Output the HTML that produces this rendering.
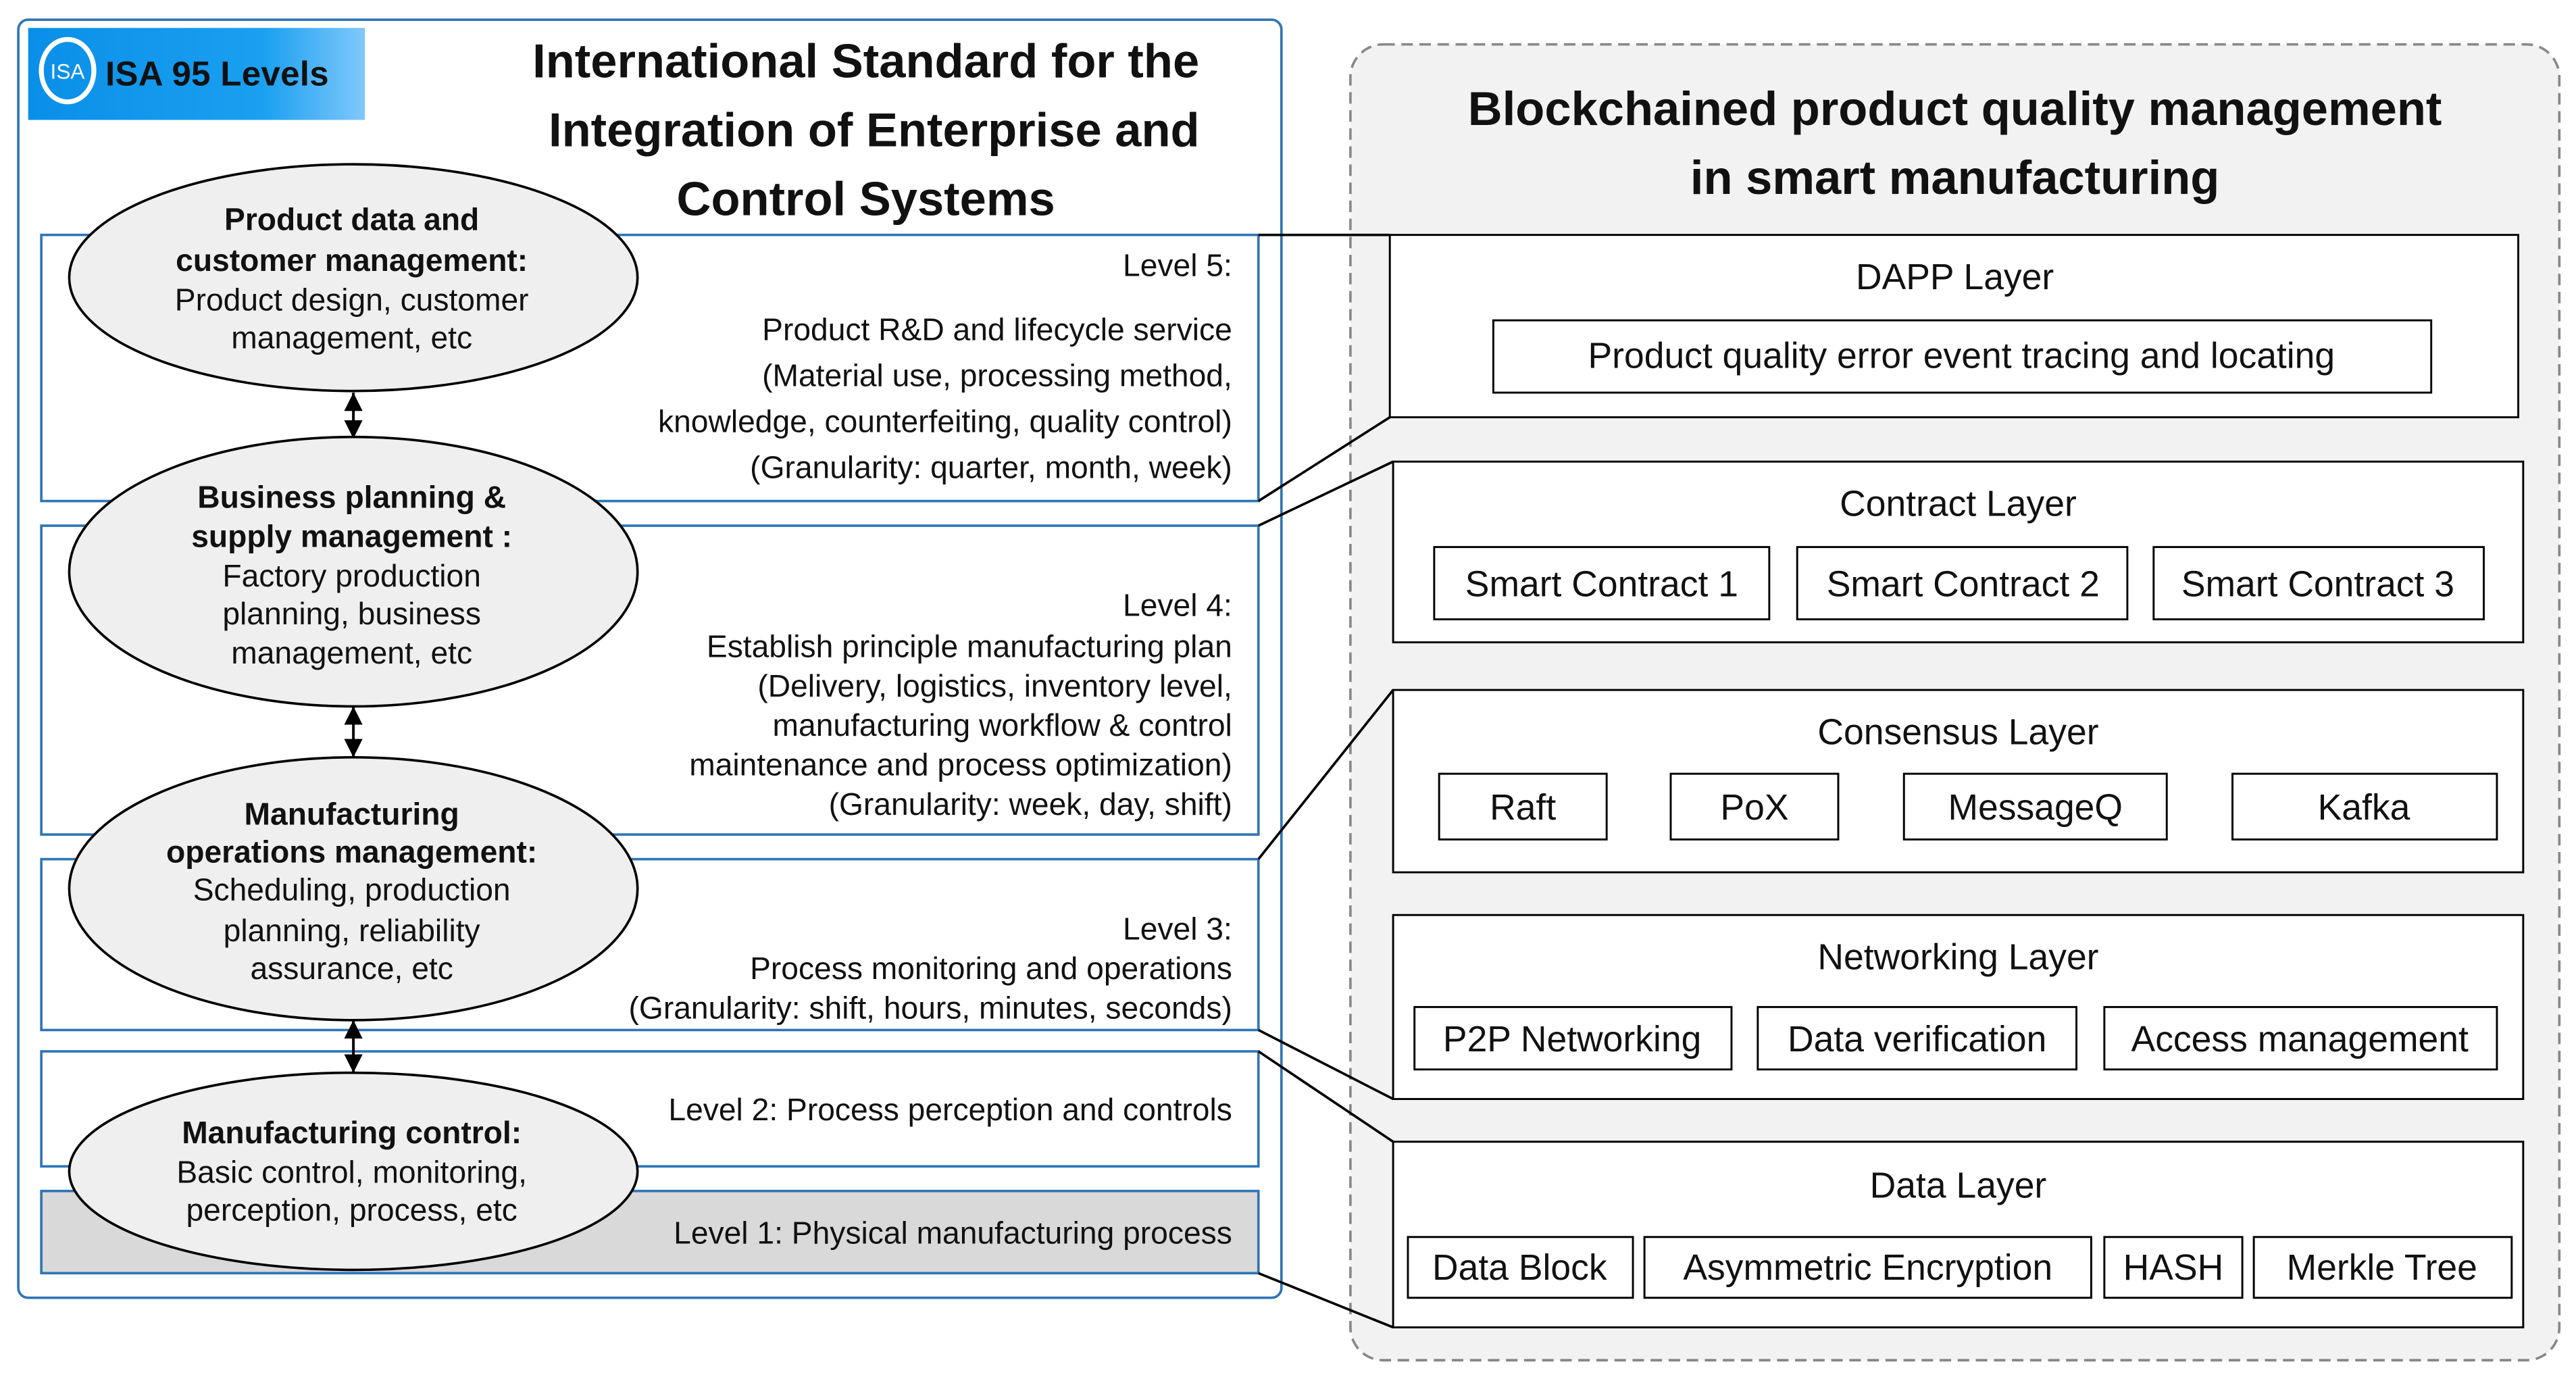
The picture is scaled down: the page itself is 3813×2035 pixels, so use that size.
<!DOCTYPE html>
<html><head><meta charset="utf-8"><style>
html,body{margin:0;padding:0;background:#fff}
svg{display:block}
text{font-family:"Liberation Sans",sans-serif;fill:#111}
</style></head><body>
<svg width="3813" height="2035" viewBox="0 0 1568 837" xmlns="http://www.w3.org/2000/svg">
<defs>
<linearGradient id="g" x1="0" x2="1"><stop offset="0" stop-color="#0a8fe8"/><stop offset="0.7" stop-color="#1aa0f0"/><stop offset="1" stop-color="#80c8fa"/></linearGradient>
<marker id="a" viewBox="0 0 10 10" refX="10" refY="5" markerWidth="7" markerHeight="8" orient="auto-start-reverse"><path d="M0,0L10,5L0,10z" fill="#000"/></marker>
</defs>
<rect x="11" y="12" width="769" height="778" rx="6" fill="#fff" stroke="#2e75b6" stroke-width="1.5"/>
<rect x="17" y="17" width="205" height="56" fill="url(#g)"/>
<ellipse cx="41" cy="43" rx="16" ry="19" fill="none" stroke="#fff" stroke-width="3"/>
<text x="41" y="48" font-size="13" text-anchor="middle" style="fill:#fff">ISA</text>
<text x="64" y="52" font-size="21" font-weight="bold" textLength="136">ISA 95 Levels</text>
<g font-size="29" font-weight="bold" text-anchor="middle">
<text x="527" y="47">International Standard for the</text>
<text x="532" y="89">Integration of Enterprise and</text>
<text x="527" y="131">Control Systems</text>
</g>
<g fill="#fff" stroke="#2e75b6" stroke-width="1.5">
<rect x="25" y="143" width="741" height="162"/>
<rect x="25" y="320" width="741" height="188"/>
<rect x="25" y="523" width="741" height="104"/>
<rect x="25" y="640" width="741" height="70"/>
<rect x="25" y="725" width="741" height="50" fill="#d9d9d9"/>
</g>
<g font-size="19" text-anchor="end">
<text x="750" y="168">Level 5:</text>
<text x="750" y="207">Product R&amp;D and lifecycle service</text>
<text x="750" y="235">(Material use, processing method,</text>
<text x="750" y="263">knowledge, counterfeiting, quality control)</text>
<text x="750" y="291">(Granularity: quarter, month, week)</text>
<text x="750" y="375">Level 4:</text>
<text x="750" y="400">Establish principle manufacturing plan</text>
<text x="750" y="424">(Delivery, logistics, inventory level,</text>
<text x="750" y="448">manufacturing workflow &amp; control</text>
<text x="750" y="472">maintenance and process optimization)</text>
<text x="750" y="496">(Granularity: week, day, shift)</text>
<text x="750" y="572">Level 3:</text>
<text x="750" y="596">Process monitoring and operations</text>
<text x="750" y="620">(Granularity: shift, hours, minutes, seconds)</text>
<text x="750" y="682">Level 2: Process perception and controls</text>
<text x="750" y="757">Level 1: Physical manufacturing process</text>
</g>
<g stroke="#000" stroke-width="1.6">
<line x1="215" y1="239" x2="215" y2="267" marker-start="url(#a)" marker-end="url(#a)"/>
<line x1="215" y1="430" x2="215" y2="461" marker-start="url(#a)" marker-end="url(#a)"/>
<line x1="215" y1="621" x2="215" y2="653" marker-start="url(#a)" marker-end="url(#a)"/>
</g>
<g fill="#efefef" stroke="#000" stroke-width="1.5">
<ellipse cx="215" cy="169" rx="173" ry="69"/>
<ellipse cx="215" cy="348" rx="173" ry="82"/>
<ellipse cx="215" cy="541" rx="173" ry="80"/>
<ellipse cx="215" cy="713" rx="173" ry="60"/>
</g>
<g font-size="19" text-anchor="middle">
<text x="214" y="140" font-weight="bold">Product data and</text>
<text x="214" y="165" font-weight="bold">customer management:</text>
<text x="214" y="189">Product design, customer</text>
<text x="214" y="212">management, etc</text>
<text x="214" y="309" font-weight="bold">Business planning &amp;</text>
<text x="214" y="333" font-weight="bold">supply management :</text>
<text x="214" y="357">Factory production</text>
<text x="214" y="380">planning, business</text>
<text x="214" y="404">management, etc</text>
<text x="214" y="502" font-weight="bold">Manufacturing</text>
<text x="214" y="525" font-weight="bold">operations management:</text>
<text x="214" y="548">Scheduling, production</text>
<text x="214" y="573">planning, reliability</text>
<text x="214" y="596">assurance, etc</text>
<text x="214" y="696" font-weight="bold">Manufacturing control:</text>
<text x="214" y="720">Basic control, monitoring,</text>
<text x="214" y="743">perception, process, etc</text>
</g>
<rect x="822" y="27" width="736" height="801" rx="20" fill="#f2f2f2" stroke="#888" stroke-width="1.5" stroke-dasharray="7,4"/>
<g font-size="29" font-weight="bold" text-anchor="middle">
<text x="1190" y="76">Blockchained product quality management</text>
<text x="1190" y="118">in smart manufacturing</text>
</g>
<g fill="#fff" stroke="#000" stroke-width="1.2">
<rect x="846" y="143" width="687" height="111"/>
<rect x="848" y="281" width="688" height="110"/>
<rect x="848" y="420" width="688" height="111"/>
<rect x="848" y="557" width="688" height="112"/>
<rect x="848" y="695" width="688" height="113"/>
<rect x="909" y="195" width="571" height="44"/>
<rect x="873" y="333" width="204" height="44"/>
<rect x="1094" y="333" width="201" height="44"/>
<rect x="1311" y="333" width="201" height="44"/>
<rect x="876" y="471" width="102" height="40"/>
<rect x="1017" y="471" width="102" height="40"/>
<rect x="1159" y="471" width="160" height="40"/>
<rect x="1359" y="471" width="161" height="40"/>
<rect x="861" y="613" width="193" height="38"/>
<rect x="1070" y="613" width="194" height="38"/>
<rect x="1281" y="613" width="239" height="38"/>
<rect x="857" y="753" width="137" height="37"/>
<rect x="1001" y="753" width="272" height="37"/>
<rect x="1281" y="753" width="84" height="37"/>
<rect x="1372" y="753" width="157" height="37"/>
</g>
<g font-size="22" text-anchor="middle">
<text x="1190" y="176">DAPP Layer</text>
<text x="1194" y="224">Product quality error  event tracing and locating</text>
<text x="1192" y="314">Contract Layer</text>
<text x="975" y="363">Smart Contract 1</text>
<text x="1195" y="363">Smart Contract 2</text>
<text x="1411" y="363">Smart Contract 3</text>
<text x="1192" y="453">Consensus Layer</text>
<text x="927" y="499">Raft</text>
<text x="1068" y="499">PoX</text>
<text x="1239" y="499">MessageQ</text>
<text x="1439" y="499">Kafka</text>
<text x="1192" y="590">Networking Layer</text>
<text x="957" y="640">P2P Networking</text>
<text x="1167" y="640">Data verification</text>
<text x="1400" y="640">Access management</text>
<text x="1192" y="729">Data Layer</text>
<text x="925" y="779">Data Block</text>
<text x="1137" y="779">Asymmetric Encryption</text>
<text x="1323" y="779">HASH</text>
<text x="1450" y="779">Merkle Tree</text>
</g>
<g stroke="#000" stroke-width="1.5" fill="none">
<line x1="766" y1="143" x2="846" y2="143"/>
<line x1="766" y1="305" x2="846" y2="254"/>
<line x1="766" y1="320" x2="848" y2="281"/>
<line x1="766" y1="523" x2="848" y2="420"/>
<line x1="766" y1="627" x2="848" y2="669"/>
<line x1="766" y1="640" x2="848" y2="695"/>
<line x1="766" y1="775" x2="848" y2="808"/>
</g>
</svg>
</body></html>
